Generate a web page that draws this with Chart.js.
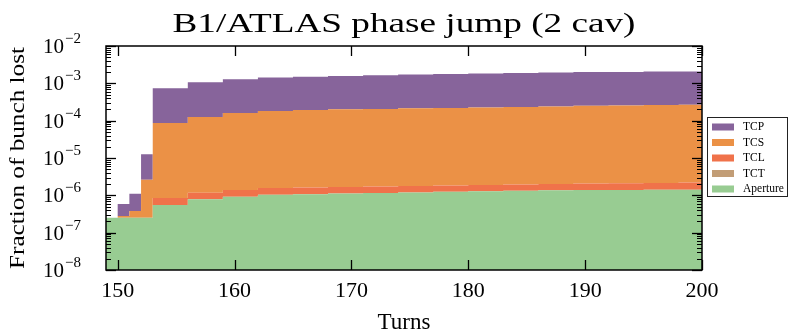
<!DOCTYPE html>
<html>
<head>
<meta charset="utf-8">
<script src="https://cdn.jsdelivr.net/npm/chart.js@4.4.0/dist/chart.umd.min.js"></script>
<style>
  html, body { margin: 0; padding: 0; background: #fff; }
  #wrap { width: 788px; height: 332px; }
</style>
</head>
<body>
<div id="wrap"><canvas id="lossChart"></canvas></div>
<script>
// ============================================
// B1/ATLAS phase jump (2 cav) - stacked losses per element, log scale
// ============================================

const turns = [149, 150, 151, 152, 153, 156, 159, 162, 165, 168, 171, 174, 177, 180, 183, 186, 189, 192, 195, 198, 200];

// loss in each element (not cumulative)
const lossAperture = [2.5e-7, 2.5e-7, 2.5e-7, 2.5e-7, 5.5e-7, 7.9e-7, 9.2e-7, 1.03e-6, 1.07e-6, 1.12e-6, 1.16e-6, 1.20e-6, 1.24e-6, 1.28e-6, 1.33e-6, 1.36e-6, 1.39e-6, 1.40e-6, 1.41e-6, 1.42e-6, 1.42e-6];
const lossTCT = [0, 0, 0, 0, 0, 0, 0, 0, 0, 0, 0, 0, 0, 0, 0, 0, 0, 0, 0, 0, 0];
const lossTCL = [0, 0, 0, 0, 3.0e-7, 3.9e-7, 4.8e-7, 5.5e-7, 5.6e-7, 5.6e-7, 5.7e-7, 5.9e-7, 6.0e-7, 6.2e-7, 6.3e-7, 6.6e-7, 6.7e-7, 7.0e-7, 7.4e-7, 7.7e-7, 7.7e-7];
const lossTCS = [0, 3e-8, 1.3e-7, 2.35e-6, 8.6e-5, 1.25e-4, 1.58e-4, 1.81e-4, 1.90e-4, 1.99e-4, 2.05e-4, 2.12e-4, 2.18e-4, 2.24e-4, 2.30e-4, 2.38e-4, 2.47e-4, 2.54e-4, 2.59e-4, 2.63e-4, 2.63e-4];
const lossTCP = [0, 3.1e-7, 7.2e-7, 1.0e-5, 6.5e-4, 9.4e-4, 1.13e-3, 1.26e-3, 1.30e-3, 1.37e-3, 1.43e-3, 1.50e-3, 1.55e-3, 1.61e-3, 1.67e-3, 1.71e-3, 1.75e-3, 1.77e-3, 1.80e-3, 1.82e-3, 1.82e-3];

const xTicks = [150, 160, 170, 180, 190, 200];
const yDecades = [-8, -7, -6, -5, -4, -3, -2];

const layers = [
  { label: 'Aperture', values: lossAperture, color: '#98cc92' },
  { label: 'TCT', values: lossTCT, color: '#c29d76' },
  { label: 'TCL', values: lossTCL, color: '#f0724a' },
  { label: 'TCS', values: lossTCS, color: '#eb9146' },
  { label: 'TCP', values: lossTCP, color: '#87649b' }
];

const SERIF = '"Liberation Serif", "DejaVu Serif", serif';

// build cumulative stack
let running = turns.map(() => 0);
const datasets = layers.map((layer, i) => {
  running = running.map((r, k) => r + layer.values[k]);
  return {
    label: layer.label,
    data: turns.map((t, k) => ({ x: t, y: running[k] })),
    backgroundColor: layer.color,
    borderColor: layer.color,
    borderWidth: 0,
    pointRadius: 0,
    stepped: 'before', // value holds until the next turn
    fill: i === 0 ? 'start' : '-1'
  };
});

function stretchText(ctx, text, x, y, width) {
  const w = ctx.measureText(text).width;
  ctx.save();
  ctx.translate(x, y);
  ctx.scale(width / w, 1);
  ctx.fillText(text, 0, 0);
  ctx.restore();
}

function line(ctx, x1, y1, x2, y2) {
  ctx.beginPath();
  ctx.moveTo(x1, y1);
  ctx.lineTo(x2, y2);
  ctx.stroke();
}

const decorations = {
  id: 'decorations',
  afterDatasetsDraw(chart) {
    const { ctx, chartArea: a, scales: { x, y } } = chart;
    ctx.save();
    ctx.strokeStyle = '#000';
    ctx.fillStyle = '#000';

    // x ticks (inward, top and bottom)
    ctx.lineWidth = 1.3;
    xTicks.forEach(v => {
      const px = Math.round(x.getPixelForValue(v)) + 0.5;
      line(ctx, px, a.bottom, px, a.bottom - 10);
      line(ctx, px, a.top, px, a.top + 10);
    });

    // y ticks (inward, left and right)
    yDecades.forEach(e => {
      const py = Math.round(y.getPixelForValue(Math.pow(10, e))) + 0.5;
      ctx.lineWidth = 1.3;
      line(ctx, a.left, py, a.left + 10, py);
      line(ctx, a.right, py, a.right - 10, py);
      if (e < -2) {
        ctx.lineWidth = 1;
        for (let m = 2; m <= 9; m++) {
          const pm = Math.round(y.getPixelForValue(m * Math.pow(10, e))) + 0.5;
          line(ctx, a.left, pm, a.left + 5, pm);
          line(ctx, a.right, pm, a.right - 5, pm);
        }
      }
    });

    // frame
    ctx.lineWidth = 1.5;
    ctx.strokeRect(a.left, a.top, a.right - a.left, a.bottom - a.top);

    // x tick labels
    ctx.font = '22px ' + SERIF;
    ctx.textAlign = 'center';
    ctx.textBaseline = 'alphabetic';
    xTicks.forEach(v => ctx.fillText(String(v), x.getPixelForValue(v), 297));

    // y tick labels 10^e
    yDecades.forEach(e => {
      const py = y.getPixelForValue(Math.pow(10, e));
      ctx.font = '21px ' + SERIF;
      ctx.textAlign = 'right';
      ctx.fillText('10', 64, py + 7);
      ctx.font = '15px ' + SERIF;
      ctx.textAlign = 'left';
      ctx.fillText('\u2212' + Math.abs(e), 65, py - 3);
    });

    // axis titles
    ctx.textAlign = 'center';
    ctx.font = '23px ' + SERIF;
    ctx.fillText('Turns', (a.left + a.right) / 2, 329);

    ctx.save();
    ctx.translate(18, (a.top + a.bottom) / 2);
    ctx.rotate(-Math.PI / 2);
    ctx.textBaseline = 'middle';
    ctx.font = '21px ' + SERIF;
    stretchText(ctx, 'Fraction of bunch lost', 0, 0, 222);
    ctx.restore();

    // title
    ctx.font = '28px ' + SERIF;
    ctx.textBaseline = 'alphabetic';
    stretchText(ctx, 'B1/ATLAS phase jump (2 cav)', (a.left + a.right) / 2, 32, 463);

    // legend (top entry = top of stack)
    const lx = 707.5, ly = 117.5, lw = 80, lh = 79;
    ctx.lineWidth = 1;
    ctx.strokeStyle = '#222';
    ctx.strokeRect(lx, ly, lw, lh);
    ctx.font = '11.5px ' + SERIF;
    ctx.textAlign = 'left';
    ctx.textBaseline = 'middle';
    const items = chart.data.datasets.slice().reverse();
    items.forEach((ds, i) => {
      const cy = 127 + i * 15.5;
      ctx.fillStyle = ds.backgroundColor;
      ctx.fillRect(712, cy - 3.5, 22, 7);
      ctx.fillStyle = '#000';
      ctx.fillText(ds.label, 743, cy);
    });

    ctx.restore();
  }
};

new Chart(document.getElementById('lossChart'), {
  type: 'line',
  data: { datasets },
  options: {
    responsive: true,
    maintainAspectRatio: false,
    animation: false,
    devicePixelRatio: 1,
    layout: { padding: { left: 106, right: 86, top: 46, bottom: 62 } },
    plugins: {
      legend: { display: false },
      title: { display: false },
      tooltip: { enabled: false }
    },
    scales: {
      x: {
        type: 'linear',
        min: 149,
        max: 200,
        display: false
      },
      y: {
        type: 'logarithmic',
        min: 1e-8,
        max: 1e-2,
        display: false
      }
    }
  },
  plugins: [decorations]
});
</script>
</body>
</html>
